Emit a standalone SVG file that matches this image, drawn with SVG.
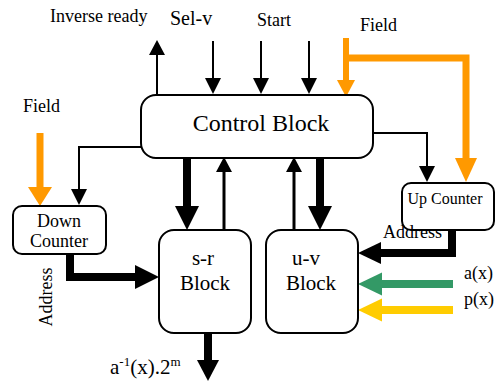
<svg xmlns="http://www.w3.org/2000/svg" width="496" height="383" viewBox="0 0 496 383">
<style>
.box{fill:#fff;stroke:#000;stroke-width:2}
text{font-family:"Liberation Serif","Times New Roman",serif;fill:#000}
.t18{font-size:18px}
.thin{stroke:#000;stroke-width:2;fill:none}
.med{stroke:#000;stroke-width:3;fill:none}
.thick{stroke:#000;stroke-width:8;fill:none}
.or{stroke:#FF9900;fill:none}
.k{fill:#000}
</style>
<rect width="496" height="383" fill="#fff"/>
<g id="connectors">
  <!-- inverse ready -->
  <line class="thin" x1="157" y1="95" x2="157" y2="52"/>
  <polygon class="k" points="149,55 165,55 157,40"/>
  <!-- sel-v -->
  <line class="thin" x1="213" y1="41" x2="213" y2="80"/>
  <polygon class="k" points="205,78 221,78 213,94"/>
  <!-- start -->
  <line class="thin" x1="261" y1="41" x2="261" y2="80"/>
  <polygon class="k" points="253,78 269,78 261,94"/>
  <line class="thin" x1="309" y1="41" x2="309" y2="80"/>
  <polygon class="k" points="301,78 317,78 309,94"/>
  <!-- field orange right -->
  <path class="or" stroke-width="6" d="M346,38 V82"/>
  <polygon fill="#FF9900" points="337,80 355,80 346,97"/>
  <path class="or" stroke-width="7" d="M346,58 H466 V160"/>
  <polygon fill="#FF9900" points="455,158 477,158 466,182"/>
  <!-- field orange left -->
  <path class="or" stroke-width="7" d="M40,133 V190"/>
  <polygon fill="#FF9900" points="28,187 52,187 40,206"/>
  <!-- control to down counter -->
  <path class="thin" d="M141,147 H79 V190"/>
  <polygon class="k" points="71,189 87,189 79,205"/>
  <!-- control to up counter -->
  <path class="thin" d="M373,133 H427 V168"/>
  <polygon class="k" points="419,166 435,166 427,182"/>
  <!-- control to s-r thick -->
  <line class="thick" x1="187" y1="158" x2="187" y2="208"/>
  <polygon class="k" points="175,206 199,206 187,230"/>
  <!-- s-r to control -->
  <line class="med" x1="224" y1="230" x2="224" y2="170"/>
  <polygon class="k" points="216,172 232,172 224,157"/>
  <!-- u-v to control -->
  <line class="med" x1="294" y1="230" x2="294" y2="170"/>
  <polygon class="k" points="286,172 302,172 294,157"/>
  <!-- control to u-v thick -->
  <line class="thick" x1="320" y1="158" x2="320" y2="208"/>
  <polygon class="k" points="308,206 332,206 320,230"/>
  <!-- down counter address to s-r -->
  <path class="thick" stroke-width="7" d="M70,254 V277 H137" stroke-linejoin="miter"/>
  <polygon class="k" points="135,265 135,289 159,277"/>
  <!-- up counter address to u-v -->
  <path class="thick" stroke-width="7" d="M452,230 V253 H378" stroke-linejoin="miter"/>
  <polygon class="k" points="381,242 381,264 358,253"/>
  <!-- a(x) green -->
  <line stroke="#339966" stroke-width="8" x1="453" y1="284" x2="380" y2="284"/>
  <polygon fill="#339966" points="382,272.5 382,295.5 358,284"/>
  <!-- p(x) yellow -->
  <line stroke="#FFCC00" stroke-width="8" x1="453" y1="310" x2="380" y2="310"/>
  <polygon fill="#FFCC00" points="382,298.5 382,321.5 358,310"/>
  <!-- output -->
  <line class="thick" stroke-width="9" x1="208" y1="333" x2="208" y2="362"/>
  <polygon class="k" points="197,360 219,360 208,381"/>
</g>
<g id="control-block">
  <rect class="box" x="141" y="95" width="232" height="63" rx="15"/>
  <text x="261" y="131" font-size="24" text-anchor="middle">Control Block</text>
</g>
<g id="down-counter">
  <rect class="box" x="13" y="206" width="93" height="48" rx="9"/>
  <text class="t18" x="59" y="227" text-anchor="middle">Down</text>
  <text class="t18" x="59" y="247" text-anchor="middle">Counter</text>
</g>
<g id="up-counter">
  <rect class="box" x="402" y="183" width="92" height="47" rx="9"/>
  <text x="445" y="204" font-size="16" text-anchor="middle">Up Counter</text>
</g>
<g id="sr-block">
  <rect class="box" x="159" y="230" width="92" height="103" rx="15"/>
  <text x="203" y="265" font-size="21" text-anchor="middle">s-r</text>
  <text x="205" y="290" font-size="21" text-anchor="middle">Block</text>
</g>
<g id="uv-block">
  <rect class="box" x="266" y="230" width="92" height="103" rx="15"/>
  <text x="306" y="265" font-size="21" text-anchor="middle">u-v</text>
  <text x="311" y="290" font-size="21" text-anchor="middle">Block</text>
</g>
<g id="labels">
  <text class="t18" x="50" y="22">Inverse ready</text>
  <text x="170" y="25" font-size="20">Sel-v</text>
  <text class="t18" x="257" y="26">Start</text>
  <text class="t18" x="360" y="31">Field</text>
  <text class="t18" x="23" y="112">Field</text>
  <text class="t18" x="383" y="238">Address</text>
  <text class="t18" transform="translate(52,297) rotate(-90)" text-anchor="middle">Address</text>
  <text class="t18" x="464" y="279">a(x)</text>
  <text class="t18" x="464" y="305">p(x)</text>
  <text font-size="21" x="110" y="374">a<tspan font-size="13" dy="-8">-1</tspan><tspan dy="8">(x).2</tspan><tspan font-size="13" dy="-8">m</tspan></text>
</g>
</svg>
